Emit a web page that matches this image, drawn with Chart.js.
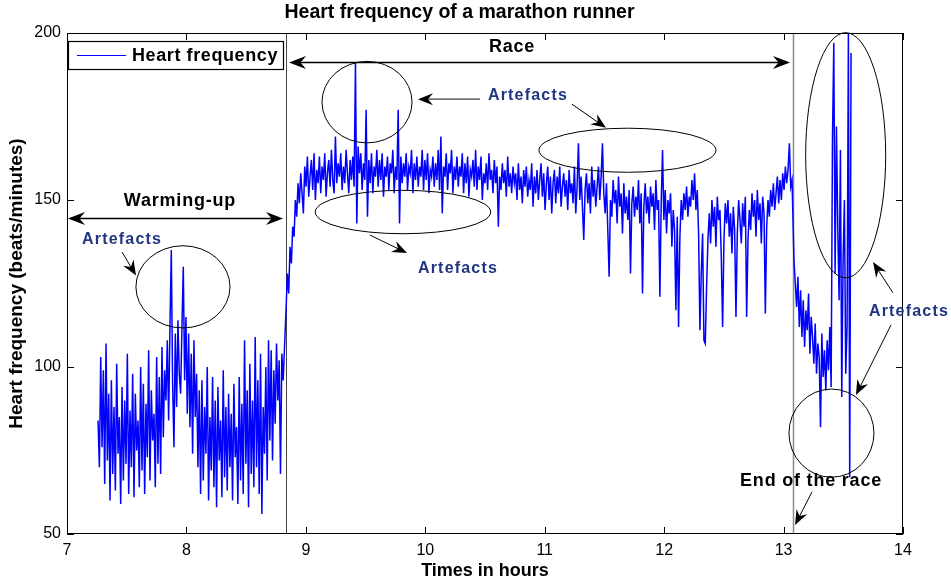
<!DOCTYPE html>
<html>
<head>
<meta charset="utf-8">
<title>Heart frequency of a marathon runner</title>
<script src="https://cdn.jsdelivr.net/npm/chart.js@4.4.1/dist/chart.umd.min.js"></script>
<style>
    html, body { margin: 0; padding: 0; background: #fff; }
    #wrap { width: 951px; height: 582px; }
</style>
</head>
<body>
<div id="wrap"><canvas id="hrChart" width="951" height="582"></canvas></div>
<script>
// Heart rate samples (beats/minute), one list per phase, evenly spaced in time
const warmUpHours = [7.26, 8.81];
const warmUpBpm = [
    84, 70, 103, 76, 99, 65, 107, 72, 92, 60,
    96, 68, 88, 63, 101, 74, 85, 59, 94, 66,
    90, 71, 104, 62, 87, 70, 98, 61, 92, 75,
    84, 64, 100, 69, 95, 62, 89, 73, 105, 66,
    93, 78, 86, 64, 103, 71, 97, 68, 106, 79,
    99,
    90, 108, 84, 112, 135, 95, 76, 110, 88, 114,
    98, 92, 112, 130, 96, 115, 86, 110, 82, 104,
    74, 108, 85,
    98, 70, 93, 62, 96, 66, 88, 74, 100, 60,
    85, 69, 97, 64, 90, 58, 94, 72, 84, 61,
    99, 67, 88, 63, 92, 70, 86, 60, 95, 73,
    82, 59, 97, 66, 89, 62, 108, 71, 93, 58,
    101, 68, 90, 64, 109, 70, 96, 62, 104, 56,
    88, 74, 100, 66, 108, 78, 105, 72, 99, 83,
    107, 90, 102, 68, 104, 96
];

const raceHours = [8.834, 13.071];
const raceBpm = [
    117, 128, 122, 136, 131, 142, 139, 150, 145, 155,
    149, 158, 152, 146, 160, 154, 163, 151, 157, 162,
    153, 164, 150, 159, 155, 163, 152, 160, 156, 164,
    151, 158, 162, 154, 165, 156, 152, 169, 155, 161,
    157, 164, 153, 160, 155, 165, 158, 152, 162, 156,
    163, 154, 191, 143, 166, 158, 164, 153, 161, 156,
    177, 145, 162, 155, 164, 152, 160, 157, 165, 154,
    162, 156, 164, 151, 160, 157, 163, 153, 161, 158,
    165, 152, 160, 156, 177, 143, 163, 155, 161, 157,
    164, 153, 160, 158, 165, 152, 161, 156, 163, 154,
    160, 157, 165, 153, 162, 156, 164, 152, 159, 157,
    163, 154, 161, 156, 165, 153, 169, 146, 160, 157,
    164, 153, 161, 158, 165, 152, 160, 156, 163, 154,
    160, 157, 164, 152, 161, 155, 163, 151, 159, 157,
    162, 154, 165, 153, 160, 156, 163, 150, 158, 155,
    161, 153, 164, 156, 159, 152, 162, 155, 160, 142,
    157, 153, 161, 155, 159, 151, 163, 154, 158, 152,
    160, 155, 158, 150, 161, 153, 157, 149, 159, 154,
    160, 151, 156, 153, 161, 148, 157, 152, 159, 150,
    156, 161, 151, 158, 147, 155, 160, 150, 157, 146,
    155, 159, 149, 157, 152, 160, 148, 154, 158, 151,
    156, 147, 159, 152, 155, 149, 160, 146, 154, 167,
    150, 157, 148, 138, 153, 158, 149, 155, 146, 160,
    151, 156, 148, 154, 160, 150, 157, 167, 152, 146,
    155, 141, 127, 150, 145, 156, 149, 153, 143, 157,
    148, 152, 140, 155, 146, 151, 144, 153, 128, 149,
    154, 145, 151, 147, 156, 143, 152, 122, 148, 155,
    146, 151, 143, 154, 148, 152, 141, 156, 147, 150,
    121, 149, 165, 144, 153, 140, 150, 146, 152, 136,
    147, 141, 117, 145, 112, 139, 150, 144, 152, 147,
    154, 145, 151, 148, 156, 150, 158, 147, 153, 140,
    111, 128, 140, 108, 107, 124, 138, 146, 137, 150,
    142, 148, 136, 151, 144, 147, 133, 112, 138, 149,
    143, 150, 139, 146, 134, 148, 141, 115, 140, 150,
    144, 137, 149, 142, 151, 115, 138, 147, 141, 152,
    145, 150, 139, 153, 144, 149, 137, 151, 146, 116,
    142, 150, 145, 153, 148, 155, 147, 152, 157, 149,
    156, 150, 158, 153, 160, 155, 159, 167, 154, 156
];

const finishHours = [13.087, 13.565];
const finishBpm = [
    132, 125, 118, 127, 112, 123, 109, 120, 106, 117,
    111, 122, 104, 115, 109, 101, 113, 98, 107, 103,
    82, 110, 97, 105, 93, 108, 99, 112, 94, 168,
    197, 128, 172, 142, 120, 165, 91, 132, 150, 98,
    112, 200, 67, 194
];

const xTicks = [7, 8, 9, 10, 11, 12, 13, 14];
const yTicks = [50, 100, 150, 200];

// start of the race and end of the race (hours)
const phaseMarks = [8.83, 13.08];

// notes drawn over the plot, in data units (hours, bpm)
const ellipses = [
    { t: 7.971, b: 124.0, rt: 0.394, rb: 12.3 },
    { t: 9.512, b: 179.3, rt: 0.377, rb: 12.2 },
    { t: 9.813, b: 146.4, rt: 0.735, rb: 6.5 },
    { t: 11.693, b: 164.9, rt: 0.741, rb: 6.6 },
    { t: 13.52, b: 163.4, rt: 0.335, rb: 36.7 },
    { t: 13.401, b: 80.2, rt: 0.356, rb: 13.2 }
];
const arrows = [
    { from: [7.461, 134.4], to: [7.578, 127.4] },
    { from: [10.458, 180.2], to: [9.939, 180.2], grey: true },
    { from: [11.228, 178.7], to: [11.513, 171.6] },
    { from: [9.537, 139.5], to: [9.847, 134.1] },
    { from: [13.916, 122.2], to: [13.749, 131.4] },
    { from: [13.900, 112.6], to: [13.606, 91.6] },
    { from: [13.238, 62.6], to: [13.096, 52.7] }
];
const spans = [
    { from: [8.859, 191.3], to: [13.054, 191.3] },
    { from: [7.008, 144.6], to: [8.809, 144.6] }
];
const notes = [
    { text: "Race", t: 10.726, b: 195.8, navy: false },
    { text: "Warming-up", t: 7.946, b: 149.7, navy: false },
    { text: "End of the race", t: 13.23, b: 65.9, navy: false },
    { text: "Artefacts", t: 7.461, b: 138.0, navy: true },
    { text: "Artefacts", t: 10.86, b: 181.4, navy: true },
    { text: "Artefacts", t: 10.274, b: 129.6, navy: true },
    { text: "Artefacts", t: 14.05, b: 116.5, navy: true }
];

const FONT = "'Liberation Sans', Arial, Helvetica, sans-serif";
const LINE_BLUE = "#0000ff";
const NAVY = "#1f3580";

function toPoints(range, values) {
    const step = (range[1] - range[0]) / (values.length - 1);
    return values.map((v, i) => ({ x: range[0] + i * step, y: v }));
}

const heartPoints = [
    ...toPoints(warmUpHours, warmUpBpm),
    ...toPoints(raceHours, raceBpm),
    ...toPoints(finishHours, finishBpm)
];

function arrowHead(ctx, x, y, angle, len, half, notch) {
    ctx.save();
    ctx.translate(x, y);
    ctx.rotate(angle);
    ctx.beginPath();
    ctx.moveTo(0, 0);
    ctx.lineTo(-len, -half);
    ctx.lineTo(-len + notch, 0);
    ctx.lineTo(-len, half);
    ctx.closePath();
    ctx.fillStyle = "#000";
    ctx.fill();
    ctx.restore();
}

const overlay = {
    id: "overlay",
    beforeDatasetsDraw(chart) {
        const { ctx, chartArea, scales } = chart;
        ctx.save();
        phaseMarks.forEach((h, i) => {
            const px = Math.round(scales.x.getPixelForValue(h)) + 0.5;
            ctx.strokeStyle = i === 0 ? "#444" : "#8a8a8a";
            ctx.lineWidth = i === 0 ? 1 : 1.5;
            ctx.beginPath();
            ctx.moveTo(px, chartArea.top);
            ctx.lineTo(px, chartArea.bottom);
            ctx.stroke();
        });
        ctx.restore();
    },
    afterDatasetsDraw(chart) {
        const { ctx, chartArea, scales } = chart;
        const X = (v) => scales.x.getPixelForValue(v);
        const Y = (v) => scales.y.getPixelForValue(v);
        const { left, right, top, bottom } = chartArea;
        ctx.save();

        // box and inward ticks on all four sides
        ctx.strokeStyle = "#000";
        ctx.lineWidth = 1;
        ctx.strokeRect(left + 0.5, top + 0.5, right - left - 1, bottom - top - 1);
        ctx.beginPath();
        xTicks.forEach((h) => {
            const px = Math.round(X(h)) + 0.5;
            ctx.moveTo(px, bottom); ctx.lineTo(px, bottom - 7);
            ctx.moveTo(px, top); ctx.lineTo(px, top + 7);
        });
        yTicks.forEach((b) => {
            const py = Math.round(Y(b)) + 0.5;
            ctx.moveTo(left, py); ctx.lineTo(left + 7, py);
            ctx.moveTo(right, py); ctx.lineTo(right - 7, py);
        });
        ctx.stroke();

        // legend
        const ds = chart.data.datasets[0];
        const lx = left + 1, ly = top + 8, lw = 215, lh = 28;
        ctx.fillStyle = "#fff";
        ctx.fillRect(lx, ly, lw, lh);
        ctx.lineWidth = 1.2;
        ctx.strokeStyle = "#000";
        ctx.strokeRect(lx + 0.5, ly + 0.5, lw, lh);
        ctx.strokeStyle = ds.borderColor;
        ctx.lineWidth = 1;
        ctx.beginPath();
        ctx.moveTo(lx + 9, ly + 14.5);
        ctx.lineTo(lx + 58, ly + 14.5);
        ctx.stroke();
        ctx.fillStyle = "#000";
        ctx.font = "bold 18px " + FONT;
        ctx.letterSpacing = "0.6px";
        ctx.textAlign = "left";
        ctx.textBaseline = "middle";
        ctx.fillText(ds.label, lx + 64, ly + 15);

        // ellipses around the artefacts
        ctx.strokeStyle = "#000";
        ctx.lineWidth = 1;
        ellipses.forEach((e) => {
            const cx = X(e.t), cy = Y(e.b);
            ctx.beginPath();
            ctx.ellipse(cx, cy, X(e.t + e.rt) - cx, cy - Y(e.b + e.rb), 0, 0, Math.PI * 2);
            ctx.stroke();
        });

        // pointer arrows
        arrows.forEach((a) => {
            const x1 = X(a.from[0]), y1 = Y(a.from[1]);
            const x2 = X(a.to[0]), y2 = Y(a.to[1]);
            const ang = Math.atan2(y2 - y1, x2 - x1);
            ctx.strokeStyle = a.grey ? "#777" : "#000";
            ctx.lineWidth = a.grey ? 1.6 : 1;
            ctx.beginPath();
            ctx.moveTo(x1, y1);
            ctx.lineTo(x2 - Math.cos(ang) * 8, y2 - Math.sin(ang) * 8);
            ctx.stroke();
            arrowHead(ctx, x2, y2, ang, 15, 6, 5);
        });

        // double arrows for the phases
        spans.forEach((s) => {
            const x1 = X(s.from[0]), y1 = Math.round(Y(s.from[1])) + 0.5;
            const x2 = X(s.to[0]), y2 = Math.round(Y(s.to[1])) + 0.5;
            ctx.strokeStyle = "#000";
            ctx.lineWidth = 1.3;
            ctx.beginPath();
            ctx.moveTo(x1 + 8, y1);
            ctx.lineTo(x2 - 8, y2);
            ctx.stroke();
            arrowHead(ctx, x2, y2, 0, 17, 6.5, 5.5);
            arrowHead(ctx, x1, y1, Math.PI, 17, 6.5, 5.5);
        });

        // text notes
        ctx.textAlign = "center";
        ctx.textBaseline = "middle";
        notes.forEach((n) => {
            if (n.navy) {
                ctx.font = "bold 16px " + FONT;
                ctx.letterSpacing = "1.2px";
                ctx.fillStyle = NAVY;
            } else {
                ctx.font = "bold 18px " + FONT;
                ctx.letterSpacing = "0.8px";
                ctx.fillStyle = "#000";
            }
            ctx.fillText(n.text, X(n.t), Y(n.b));
        });
        ctx.letterSpacing = "0px";
        ctx.restore();
    }
};

const hrCtx = document.getElementById("hrChart").getContext("2d");
new Chart(hrCtx, {
    type: "line",
    data: {
        datasets: [
            {
                label: "Heart frequency",
                data: heartPoints,
                borderColor: LINE_BLUE,
                borderWidth: 1.5,
                pointRadius: 0,
                tension: 0,
                fill: false
            }
        ]
    },
    options: {
        responsive: false,
        devicePixelRatio: 1,
        animation: false,
        events: [],
        layout: { padding: { left: 16, right: 48, top: 0, bottom: 0 } },
        plugins: {
            legend: { display: false },
            tooltip: { enabled: false },
            title: {
                display: true,
                text: "Heart frequency of a marathon runner",
                color: "#000",
                font: { family: FONT, size: 19.5, weight: "bold" },
                padding: { top: 0.5, bottom: 9.1 }
            }
        },
        scales: {
            x: {
                type: "linear",
                min: xTicks[0],
                max: xTicks[xTicks.length - 1],
                grid: { display: false },
                border: { display: false },
                ticks: {
                    stepSize: 1,
                    color: "#000",
                    padding: -1,
                    maxRotation: 0,
                    font: { family: FONT, size: 16 }
                },
                title: {
                    display: true,
                    text: "Times in hours",
                    color: "#000",
                    font: { family: FONT, size: 18, weight: "bold" },
                    padding: { top: 0, bottom: 0.5 }
                },
                afterFit: (scale) => { scale.height = 48; }
            },
            y: {
                min: yTicks[0],
                max: yTicks[yTicks.length - 1],
                grid: { display: false },
                border: { display: false },
                ticks: {
                    stepSize: 50,
                    color: "#000",
                    padding: -2,
                    font: { family: FONT, size: 16 }
                },
                title: {
                    display: true,
                    text: "Heart frequency (beats/minutes)",
                    color: "#000",
                    font: { family: FONT, size: 19, weight: "bold" },
                    padding: { top: -10.4, bottom: 0 }
                },
                afterFit: (scale) => { scale.width = 51; }
            }
        }
    },
    plugins: [overlay]
});
</script>
</body>
</html>
